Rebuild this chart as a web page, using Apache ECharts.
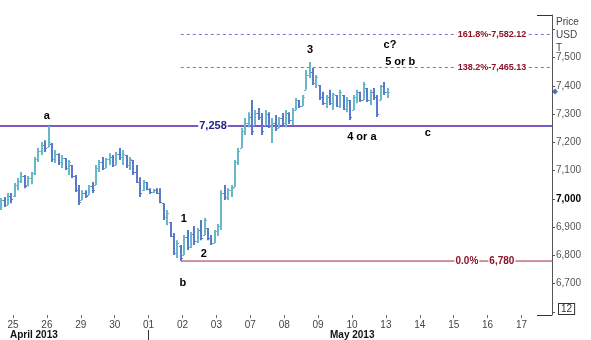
<!DOCTYPE html>
<html><head><meta charset="utf-8">
<script src="https://cdn.jsdelivr.net/npm/echarts@6/dist/echarts.min.js"></script>
<style>html,body{margin:0;padding:0;background:#fff}#c{width:591px;height:340px}</style>
</head><body><div id="c"></div>
<script>
// x-axis trading-day labels (day index 0..15)
const dayLabels = ['25','26','29','30','01','02','03','07','08','09','10','13','14','15','16','17'];
const monthLabels = ['April 2013', 'May 2013'];
// intraday bars: 10 per trading day, first bar at day -0.35
const barsPerDay = 10;
const firstBarDay = -0.35;
const highs = [7003,7007,7021,7021,7056,7074,7095,7085,7081,7095,
  7148,7180,7201,7208,7258,7198,7173,7162,7155,7145,
  7138,7120,7085,7049,7031,7031,7049,7060,7120,7138,
  7148,7145,7162,7155,7166,7180,7173,7155,7148,7138,
  7120,7077,7067,7060,7038,7035,7038,7038,6985,6961,
  6918,6879,6854,6837,6872,6890,6883,6904,6897,6925,
  6932,6897,6872,6890,6911,7031,7049,7038,7049,7138,
  7180,7251,7286,7307,7350,7315,7322,7304,7315,7307,
  7286,7297,7290,7304,7315,7307,7322,7357,7350,7368,
  7456,7485,7463,7439,7403,7379,7368,7386,7375,7368,
  7386,7368,7361,7350,7368,7386,7379,7414,7393,7386,
  7393,7368,7403,7414,7393];
const lows = [6961,6971,6978,6985,7007,7031,7056,7038,7045,7052,
  7085,7131,7155,7166,7184,7131,7127,7120,7109,7102,
  7085,7074,7024,6978,6996,7003,7014,7021,7049,7095,
  7102,7109,7120,7113,7120,7138,7120,7109,7102,7085,
  7056,7007,7028,7031,7017,7021,7017,6985,6925,6907,
  6865,6801,6791,6780,6801,6819,6826,6837,6844,6854,
  6872,6854,6837,6844,6869,6890,6996,6996,7007,7042,
  7120,7180,7226,7254,7226,7262,7279,7226,7262,7251,
  7198,7240,7251,7262,7254,7265,7262,7315,7322,7329,
  7386,7428,7403,7393,7350,7332,7322,7332,7315,7325,
  7322,7315,7307,7279,7315,7339,7343,7350,7343,7332,
  7350,7290,7350,7368,7357];
const opens = [6970,6995,6980,7010,7010,7050,7065,7080,7050,7075,
  7090,7140,7170,7190,7185,7195,7140,7160,7130,7145,
  7110,7120,7080,7030,6996,7020,7014,7045,7050,7110,
  7130,7110,7140,7150,7120,7160,7150,7155,7120,7138,
  7095,7060,7030,7060,7035,7025,7030,7020,6985,6935,
  6918,6870,6810,6835,6801,6865,6830,6875,6850,6890,
  6872,6897,6860,6845,6885,6905,7020,7005,7030,7042,
  7130,7180,7240,7270,7290,7262,7305,7290,7262,7300,
  7260,7270,7251,7285,7270,7305,7280,7315,7350,7330,
  7386,7440,7450,7410,7403,7360,7340,7360,7340,7368,
  7330,7368,7320,7350,7315,7360,7379,7350,7393,7350,
  7380,7360,7350,7400,7380];
const closes = [6995,6980,7010,7000,7050,7065,7080,7045,7075,7090,
  7140,7170,7190,7180,7200,7140,7160,7130,7145,7110,
  7130,7080,7030,6990,7020,7010,7045,7030,7110,7130,
  7110,7140,7150,7120,7160,7150,7160,7120,7140,7095,
  7060,7020,7060,7035,7025,7030,7020,6990,6935,6950,
  6870,6810,6845,6790,6865,6830,6875,6850,6890,6860,
  6925,6860,6845,6885,6905,7020,7005,7030,7040,7130,
  7170,7240,7270,7290,7240,7305,7290,7240,7300,7260,
  7270,7250,7285,7270,7305,7280,7315,7350,7330,7360,
  7440,7450,7410,7430,7360,7340,7360,7340,7370,7330,
  7380,7320,7350,7290,7360,7380,7350,7405,7350,7380,
  7360,7300,7400,7380,7380];
// price levels
const levelValues = [7582.12, 7465.13, 7258, 6780];
const levelTexts = [['161.8%-7,582.12'], ['138.2%-7,465.13'], ['7,258'], ['0.0%', '6,780']];
const yLabelValues = [6700,6800,6900,7000,7100,7200,7300,7400,7500];
// wave annotations [text, day, price]
const waveNotes = [['a',1.0,7293],['b',5.01,6702],['1',5.04,6929],['2',5.63,6805],['3',8.76,7527],
  ['c?',11.12,7545],['5 or b',11.42,7485],['4 or a',10.29,7219],['c',12.24,7233]];

const X_MIN = -0.3835, X_MAX = 15.9, Y_MIN = 6589, Y_MAX = 7651;
const FONT = 'Liberation Sans, Arial, sans-serif';
const fmt = v => String(v).replace(/\B(?=(\d{3})+(?!\d))/g, ',');

const ohlc = highs.map((h, i) => [firstBarDay + i / barsPerDay, opens[i], closes[i], lows[i], h]);
const bIdx = lows.indexOf(Math.min(...lows));
const bDay = firstBarDay + bIdx / barsPerDay;

const UP = '#68b8c8', DOWN = '#5a78cc';

const series = [];
// level lines
const levelStyles = [
  {color:'#7673d8', width:1, type:[3,3], start:bDay},
  {color:'#7673d8', width:1, type:[3,3], start:bDay},
  {color:'#7b58c4', width:2, type:'solid', start:X_MIN},
  {color:'#a3283a', width:1, type:'solid', start:bDay}
];
levelValues.forEach((v, i) => {
  series.push({type:'line', data:[[levelStyles[i].start, v],[X_MAX, v]], showSymbol:false, silent:true,
    lineStyle:{color:levelStyles[i].color, width:levelStyles[i].width, type:levelStyles[i].type}, z:1, animation:false});
});
// bars
series.push({
  type:'custom', data:ohlc, z:3, animation:false,
  encode:{x:0, y:[1,2,3,4]},
  renderItem(params, api) {
    const x = api.value(0), o = api.value(1), c = api.value(2), l = api.value(3), h = api.value(4);
    const pH = api.coord([x, h]), pL = api.coord([x, l]), pO = api.coord([x, o]), pC = api.coord([x, c]);
    const col = c >= o ? UP : DOWN;
    const xx = Math.round(pH[0]);
    return {type:'group', children:[
      {type:'line', shape:{x1:xx, y1:pH[1], x2:xx, y2:pL[1]}, style:{stroke:col, lineWidth:2}},
      {type:'line', shape:{x1:xx-2, y1:Math.round(pO[1])+0.5, x2:xx, y2:Math.round(pO[1])+0.5}, style:{stroke:col, lineWidth:1}},
      {type:'line', shape:{x1:xx, y1:Math.round(pC[1])+0.5, x2:xx+2, y2:Math.round(pC[1])+0.5}, style:{stroke:col, lineWidth:1}}
    ]};
  }
});
// level labels
const levelLabelPos = [[14.13], [14.13], [5.9], [13.39, 14.42]];
const levelLabelData = [];
levelValues.forEach((v, i) => {
  levelTexts[i].forEach((t, j) => {
    levelLabelData.push({value:[levelLabelPos[i][j], v], name:t,
      label:{color: i === 2 ? '#24228a' : '#8a1426', fontSize: i === 2 ? 11 : (i === 3 ? 10 : 9)}});
  });
});
const txtBase = {show:true, position:'inside', formatter:p => p.name, fontWeight:'bold', fontFamily:FONT,
  textBorderWidth:0, textBorderColor:'transparent', opacity:1};
series.push({type:'scatter', data:levelLabelData, symbolSize:1, itemStyle:{color:'rgba(0,0,0,0)'}, z:5, silent:true, animation:false,
  label:Object.assign({}, txtBase, {backgroundColor:'#fff', padding:[1,1,0,1]})});
// wave annotations
series.push({type:'scatter', data:waveNotes.map(n => ({value:[n[1], n[2]], name:n[0]})), symbolSize:1,
  itemStyle:{color:'rgba(0,0,0,0)'}, z:5, silent:true, animation:false,
  label:Object.assign({}, txtBase, {fontSize:11, color:'#000'})});
// current price marker
series.push({type:'scatter', data:[[X_MAX, closes[closes.length-1]]], symbol:'diamond', symbolSize:6,
  itemStyle:{color:'#1f4fa0'}, symbolOffset:[3,0], clip:false, z:10, zlevel:1, silent:true, animation:false});

const chart = echarts.init(document.getElementById('c'), null, {renderer:'canvas'});
chart.setOption({
  animation:false,
  backgroundColor:'#fff',
  grid:{left:0, top:15, width:552, height:300, containLabel:false},
  xAxis:{type:'value', min:X_MIN, max:X_MAX,
    axisLine:{show:false, onZero:false}, splitLine:{show:false},
    axisTick:{show:true, customValues:dayLabels.map((_, i) => i), length:3, lineStyle:{color:'#666'}},
    axisLabel:{customValues:dayLabels.map((_, i) => i), formatter:v => dayLabels[Math.round(v)] || '',
      fontSize:10, color:'#444', margin:5, fontFamily:FONT}},
  yAxis:{type:'value', position:'right', min:Y_MIN, max:Y_MAX,
    axisLine:{show:true, onZero:false, lineStyle:{color:'#555'}}, splitLine:{show:false},
    axisTick:{show:true, customValues:[6600,6700,6800,6900,7000,7100,7200,7300,7400,7500,7600], length:3, lineStyle:{color:'#555'}},
    axisLabel:{customValues:yLabelValues, fontSize:10, color:'#555', margin:4, fontFamily:FONT,
      formatter:v => v === 7000 ? '{b|' + fmt(v) + '}' : fmt(v),
      rich:{b:{fontWeight:'bold', color:'#000', fontSize:10, fontFamily:FONT}}}},
  series:series,
  graphic:[
    {type:'line', shape:{x1:537, y1:15.5, x2:552, y2:15.5}, style:{stroke:'#333', lineWidth:1}},
    {type:'line', shape:{x1:537, y1:315.5, x2:552, y2:315.5}, style:{stroke:'#333', lineWidth:1}},
    {type:'text', left:556, top:16, style:{text:'Price\nUSD\nT', fill:'#444', font:'10px ' + FONT, lineHeight:13}},
    {type:'text', left:558, top:303, style:{text:'12', fill:'#333', font:'10px ' + FONT, borderColor:'#333', borderWidth:1, padding:[0,2,0,2], backgroundColor:'#fff'}},
    {type:'text', left:10, top:330, style:{text:monthLabels[0], fill:'#111', font:'bold 10px ' + FONT}},
    {type:'text', left:330, top:330, style:{text:monthLabels[1], fill:'#111', font:'bold 10px ' + FONT}},
    {type:'line', shape:{x1:148.5, y1:330, x2:148.5, y2:340}, style:{stroke:'#333', lineWidth:1}}
  ]
});
</script></body></html>
